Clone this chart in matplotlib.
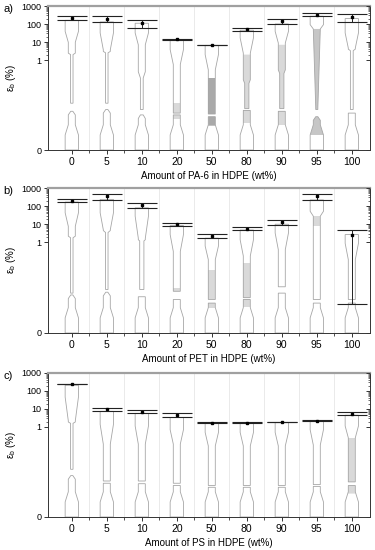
import numpy as np
import matplotlib
matplotlib.use("Agg")
import matplotlib.pyplot as plt
from matplotlib.patches import Polygon

plt.rcParams['font.family'] = ['Liberation Sans', 'DejaVu Sans']
plt.rcParams['mathtext.fontset'] = 'custom'
plt.rcParams['mathtext.rm'] = 'Liberation Sans'

# ---------------- data ----------------
categories = ['0', '5', '10', '20', '50', '80', '90', '95', '100']
xlabels = ['Amount of PA-6 in HDPE (wt%)',
           'Amount of PET in HDPE (wt%)',
           'Amount of PS in HDPE (wt%)']
panel_tags = ['a)', 'b)', 'c)']

# elongation at break (mean, %) and standard deviation
mean_pa6 = [220, 201, 111, 14, 6.8, 51.5, 142, 337, 247]
sd_pa6 = [47, 67, 49, 0.5, 0.25, 8.5, 38, 70, 113]
mean_pet = [200, 355, 118, 10.1, 2.32, 5.8, 13.8, 355, 2.67]
sd_pet = [34, 125, 35, 1.7, 0.58, 1.0, 4.2, 125, 2.35]
mean_ps = [240, 9.4, 7.25, 4.55, 1.76, 1.76, 1.92, 2.28, 5.55]
sd_ps = [8, 2.0, 1.55, 1.15, 0.05, 0.08, 0.07, 0.1, 0.95]

# specimen outlines (strain levels, %):
# (top, taper_hi, taper_lo, neck_at, neck_end, neck_w, break_hi, break_lo, low_w)
spec_pa6 = [(160, 39, 9.6, 2.4, 2.0, 0.035, 0.52, 0.43, 0.03),
            (130, 32, 3.7, 3.0, 2.5, 0.035, 0.52, 0.45, 0.03),
            (110, 32, 7.0, 0.87, 0.80, 0.04, 0.45, 0.39, 0.04),
            (13, 3.8, 0.95, 0, 0, 0, 0.41, 0.39, 0),
            (6.5, 2.0, 0.89, 0, 0, 0, 0.40, 0.37, 0),
            (45, 17, 2.4, 0.78, 0.74, 0.06, 0.46, 0.44, 0),
            (100, 39, 8.8, 0.89, 0.85, 0.06, 0.46, 0.43, 0),
            (270, 92, 53, 53, 0.47, 0.03, 0.45, 0.37, 0.03),
            (200, 32, 4.6, 4.0, 3.3, 0.04, 0.45, 0.41, 0)]
spec_pet = [(167, 43, 7.7, 2.2, 1.8, 0.035, 0.44, 0.42, 0.03),
            (235, 43, 5.0, 4.5, 3.5, 0.035, 0.48, 0.45, 0.03),
            (80, 28, 1.7, 1.4, 1.2, 0.06, 0.48, 0.40, 0),
            (8.5, 2.7, 0.90, 0, 0, 0, 0.46, 0.37, 0),
            (1.7, 0.96, 0.81, 0, 0, 0, 0.37, 0.33, 0),
            (4.8, 1.4, 0.85, 0, 0, 0, 0.39, 0.37, 0),
            (10, 3.3, 0.92, 0, 0, 0, 0.51, 0.44, 0),
            (220, 52, 28, 0, 0, 0, 0.37, 0.33, 0),
            (2.7, 0.99, 0.81, 0, 0, 0, 0.37, 0.33, 0)]
spec_ps = [(210, 46, 2.2, 1.9, 1.6, 0.035, 0.53, 0.46, 0.03),
           (7.4, 1.4, 0.81, 0, 0, 0, 0.40, 0.375, 0),
           (5.7, 1.14, 0.81, 0, 0, 0, 0.40, 0.37, 0),
           (3.4, 0.97, 0.81, 0, 0, 0, 0.375, 0.35, 0),
           (1.6, 0.94, 0.79, 0, 0, 0, 0.35, 0.33, 0),
           (1.6, 0.94, 0.79, 0, 0, 0, 0.35, 0.33, 0),
           (1.75, 0.94, 0.79, 0, 0, 0, 0.35, 0.33, 0),
           (2.1, 0.97, 0.80, 0, 0, 0, 0.36, 0.34, 0),
           (4.5, 1.14, 0.88, 0, 0, 0, 0.39, 0.35, 0)]
# shaded zones on specimens (low, high, shade)
fill_pa6 = [[], [], [], [(0.35, 0.52, 'l')], [(0.27, 0.80, 'd')],
            [(0.30, 2.0, 'l')], [(0.28, 7.0, 'l')], [(0.167, 53, 'm')], []]
fill_pet = [[], [], [], [(0.44, 0.50, 'l')], [(0.28, 0.70, 'l')],
            [(0.29, 0.77, 'l')], [], [(7.7, 28, 'l')], []]
fill_ps = [[], [], [], [], [], [], [], [], [(0.26, 0.88, 'l')]]

yticks = [0, 1, 10, 100, 1000]
yticklabels = ['0', '1', '10', '100', '1000']

means = [mean_pa6, mean_pet, mean_ps]
sds = [sd_pa6, sd_pet, sd_ps]
specs = [spec_pa6, spec_pet, spec_ps]
fills = [fill_pa6, fill_pet, fill_ps]

# ---------------- style ----------------
W, G = 0.19, 0.10
shade = {'l': '#d9d9d9', 'm': '#c6c6c6', 'd': '#a9a9a9'}
outline = '#a6a6a6'


def tval(v):
    v = np.asarray(v, float)
    return np.where(v <= 1, v * 5.0, 5.0 + np.log10(np.maximum(v, 1e-12)))


def pieces(p):
    top, th, tl, na, ne, nw, bh, bl, lw = p
    up = [(top, W), (th, W), (tl, G)]
    if na > 0:
        up += [(na, G), (ne, nw), (bh, nw)]
    else:
        up += [(bh, G)]
    up = up[::-1]
    low = [(0, W), (0.167, W), (0.28, G)]
    if lw > 0:
        low += [(bl - 0.04, G), (bl, lw)]
    else:
        low += [(bl, G)]
    return [low, up]


def poly_xy(c, prof):
    right = [(c + w, y) for y, w in prof]
    left = [(c - w, y) for y, w in prof[::-1]]
    return right + left


def clip_prof(prof, lo, hi):
    ys = np.array([y for y, w in prof])
    ws = np.array([w for y, w in prof])
    a, b = max(lo, ys.min()), min(hi, ys.max())
    if a >= b:
        return None
    t = tval(ys)
    inner = [(y, w) for y, w in prof if a < y < b]
    wa = np.interp(tval(a), t, ws)
    wb = np.interp(tval(b), t, ws)
    return [(a, wa)] + inner + [(b, wb)]


fig = plt.figure(figsize=(3.75, 5.5), dpi=100)
bottoms = [1 - 150 / 550, 1 - 333 / 550, 1 - 517 / 550]
tops = [6 / 550, 188 / 550, 373 / 550]
x = np.arange(len(categories))

for k in range(3):
    h = (1 - tops[k]) - bottoms[k]
    ax = fig.add_axes([48 / 375, bottoms[k], 322 / 375, h])
    ax.set_yscale('symlog', linthresh=1, linscale=4.5, base=10)
    ax.set_ylim(0, 1000)
    ax.set_xlim(-0.68, 8.52)

    for m in np.arange(0.5, 8.0, 1.0):
        ax.axvline(m, color='#e6e6e6', lw=0.6, zorder=0)

    for i, c in enumerate(x):
        prs = pieces(specs[k][i])
        for lo, hi, s in fills[k][i]:
            for pr in prs:
                cp = clip_prof(pr, lo, hi)
                if cp is not None:
                    ax.add_patch(Polygon(poly_xy(c, cp), closed=True,
                                         facecolor=shade[s], edgecolor='none',
                                         zorder=1))
        for pr in prs:
            ax.add_patch(Polygon(poly_xy(c, pr), closed=True, facecolor='none',
                                 edgecolor=outline, lw=0.6, zorder=2))

    ax.errorbar(x, means[k], yerr=sds[k], fmt='s', ms=1.7, color='black',
                ecolor='#222222', elinewidth=0.7, capsize=11, capthick=0.8,
                zorder=4)

    ax.set_yticks(yticks)
    ax.set_yticklabels(yticklabels)
    minor = [m * 10 ** d for d in range(0, 3) for m in range(2, 10)]
    ax.set_yticks(minor, minor=True)
    ax.set_xticks(x)
    ax.set_xticklabels(categories)
    ax.set_xticks(np.arange(0.5, 8.0, 1.0), minor=True)
    ax.tick_params(axis='x', which='major', labelsize=7.5, length=3,
                   width=0.7, color='#333333', pad=2)
    ax.tick_params(axis='x', which='minor', length=2, width=0.6,
                   color='#333333')
    ax.tick_params(axis='y', which='major', labelsize=6.5, length=3,
                   width=0.7, color='#333333', pad=1.5)
    ax.tick_params(axis='y', which='minor', length=1.5, width=0.5,
                   color='#333333')
    ax.set_xlabel(xlabels[k], fontsize=7, labelpad=3)
    ax.set_ylabel('ε$_\\mathrm{b}$ (%)', fontsize=7, labelpad=3)

    for sp in ['left', 'bottom', 'right']:
        ax.spines[sp].set_color('#333333')
        ax.spines[sp].set_linewidth(0.7)
    ax.spines['top'].set_color('#a0a0a0')
    ax.spines['top'].set_linewidth(1.6)

    tw = ax.twinx()
    tw.set_yscale('symlog', linthresh=1, linscale=4.5, base=10)
    tw.set_ylim(0, 1000)
    tw.set_yticks(yticks)
    tw.set_yticks(minor, minor=True)
    tw.tick_params(axis='y', which='both', direction='in', labelright=False,
                   color='#333333')
    tw.tick_params(axis='y', which='major', length=3, width=0.7)
    tw.tick_params(axis='y', which='minor', length=1.5, width=0.5)
    for sp in tw.spines.values():
        sp.set_visible(False)

    fig.text(3 / 375, 1 - (tops[k] * 550 + 3) / 550, panel_tags[k],
             fontsize=8, va='center', ha='left')

fig.savefig('out.png', dpi=100)
